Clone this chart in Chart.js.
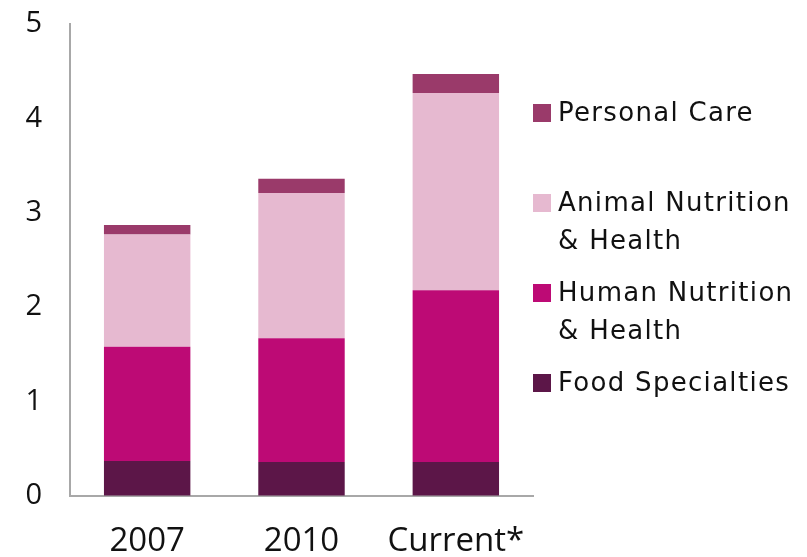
<!DOCTYPE html>
<html>
<head>
<meta charset="utf-8">
<script src="https://cdn.jsdelivr.net/npm/chart.js@4/dist/chart.umd.min.js"></script>
<style>
  body { margin: 0; background: #fff; }
  #wrap { position: relative; width: 807px; height: 557px; }
  #legend {
    position: absolute; left: 533px; top: 94px;
    font-family: "DejaVu Sans", sans-serif; font-size: 26px;
    letter-spacing: 1.3px; color: #111; line-height: 37.5px;
  }
  .item { display: flex; align-items: flex-start; min-height: 75px; margin-bottom: 15px; }
  .box { width: 18px; height: 18px; margin-top: 10px; margin-right: 7px; flex: none; }
</style>
</head>
<body>
<div id="wrap">
  <canvas id="chart" width="807" height="557"></canvas>
  <div id="legend"></div>
</div>
<script>
// Categories and segment values (stacked bottom to top)
const years = ['2007', '2010', 'Current*'];
const foodSpecialties = [0.37, 0.36, 0.36];
const humanNutrition = [1.21, 1.31, 1.82];
const animalNutrition = [1.19, 1.54, 2.09];
const personalCare = [0.10, 0.15, 0.20];
const yTicks = [0, 1, 2, 3, 4, 5];

const series = [
    { label: 'Food Specialties', lines: ['Food Specialties'], data: foodSpecialties, color: '#5c1648' },
    { label: 'Human Nutrition & Health', lines: ['Human Nutrition', '& Health'], data: humanNutrition, color: '#bd0a75' },
    { label: 'Animal Nutrition & Health', lines: ['Animal Nutrition', '& Health'], data: animalNutrition, color: '#e6b9d0' },
    { label: 'Personal Care', lines: ['Personal Care'], data: personalCare, color: '#9a3a6a' }
];

const axisColor = '#a8a8a8';

// invisible tick marks, used only to push the labels away from the axis
const hiddenTicks = len => ({
    display: true,
    drawOnChartArea: false,
    drawTicks: true,
    tickLength: len,
    color: 'rgba(0,0,0,0)'
});

new Chart(document.getElementById('chart'), {
    type: 'bar',
    data: {
        labels: years,
        datasets: series.map(s => ({
            label: s.label,
            data: s.data,
            backgroundColor: s.color,
            borderWidth: 0,
            categoryPercentage: 1,
            barPercentage: 0.56
        }))
    },
    options: {
        responsive: false,
        animation: false,
        layout: { padding: { top: 24, right: 274, left: 0, bottom: 0 } },
        plugins: { legend: { display: false }, tooltip: { enabled: false } },
        scales: {
            x: {
                stacked: true,
                grid: hiddenTicks(26),
                border: { display: true, color: axisColor, width: 2 },
                ticks: {
                    color: '#111',
                    padding: 0,
                    font: { family: '"Open Sans", sans-serif', size: 33 }
                },
                afterFit: s => { s.height = 61; }
            },
            y: {
                stacked: true,
                min: yTicks[0],
                max: yTicks[yTicks.length - 1],
                grid: hiddenTicks(28),
                border: { display: true, color: axisColor, width: 2 },
                afterBuildTicks: s => { s.ticks = yTicks.map(v => ({ value: v })); },
                ticks: {
                    color: '#111',
                    padding: 0,
                    font: { family: '"Open Sans", sans-serif', size: 29 }
                },
                afterFit: s => { s.width = 70; }
            }
        }
    }
});

// Legend, top entry first
const legend = document.getElementById('legend');
series.slice().reverse().forEach(s => {
    const item = document.createElement('div');
    item.className = 'item';
    const box = document.createElement('span');
    box.className = 'box';
    box.style.background = s.color;
    const text = document.createElement('span');
    text.innerHTML = s.lines.map(l => l.replace('&', '&amp;')).join('<br>');
    item.appendChild(box);
    item.appendChild(text);
    legend.appendChild(item);
});
</script>
</body>
</html>
